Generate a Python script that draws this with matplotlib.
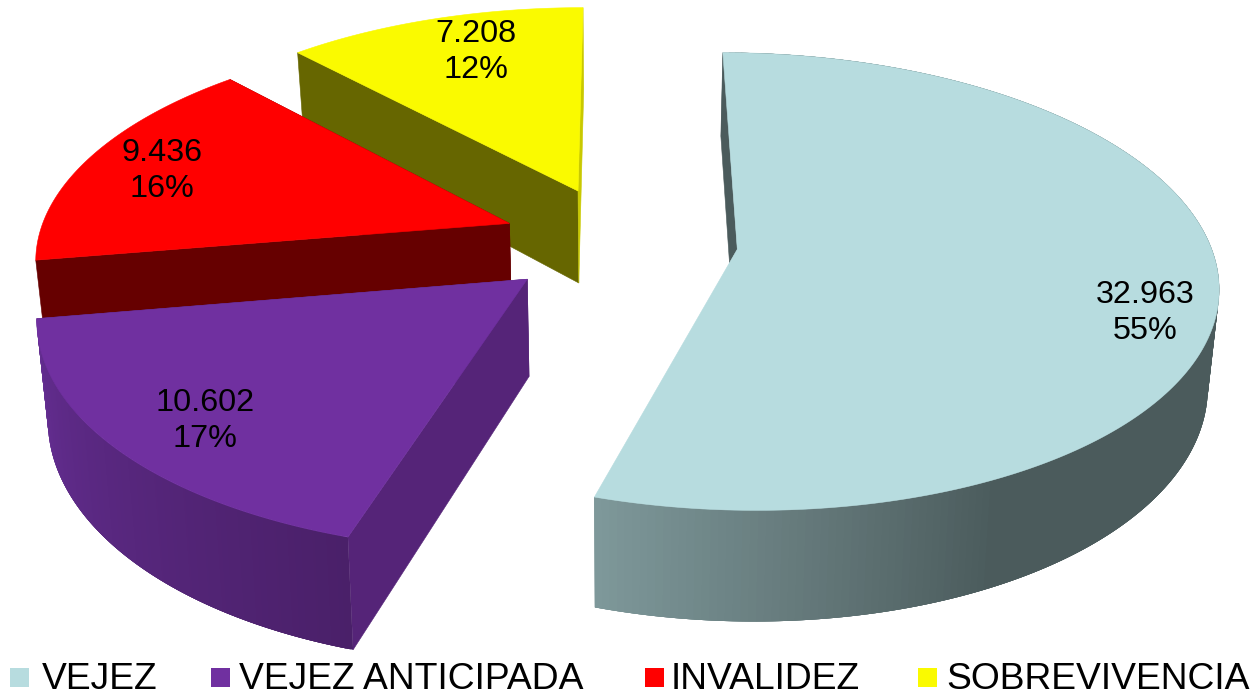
import numpy as np
import matplotlib
matplotlib.use("Agg")
import matplotlib.pyplot as plt
from matplotlib.colors import to_rgb
from matplotlib.patches import Polygon, Rectangle

categories = ["VEJEZ", "VEJEZ ANTICIPADA", "INVALIDEZ", "SOBREVIVENCIA"]
values = [32963, 10602, 9436, 7208]
value_labels = ["32.963", "10.602", "9.436", "7.208"]
pct_labels = ["55%", "17%", "16%", "12%"]
top_colors = ["#B7DCDF", "#7030A0", "#FF0000", "#FAFA00"]
side_colors = ["#4B5B5C", "#552478", "#660000", "#666600"]
end_colors = ["#4B5B5C", "#552478", "#660000", "#C9C900"]
grad_light = ["#7F999B", "#652E93", "#660000", "#666600"]
grad_dark = ["#4B5B5C", "#4A2069", "#660000", "#666600"]
explode = [0.25, 0.255, 0.25, 0.25]
label_xy = [(1145, 313), (205, 421), (162, 171), (476, 52)]
legend_sq_x = [10, 211, 645, 918]
legend_tx_x = [42, 239, 671, 946]

VX, Y0, F, T, P, H, K = 620, 241, 472, 222, 0.14, 95, 0.0002
C = T / P

def proj(x, y, z=0.0):
    s = 1 / (1 + P * np.asarray(y, float))
    return VX + F * np.asarray(x) * s * (1 - K * z), Y0 - C + (C + z) * s

fig = plt.figure(figsize=(12.52, 6.92), dpi=100)
ax = fig.add_axes([0, 0, 1, 1])
ax.set_xlim(0, 1252)
ax.set_ylim(692, 0)
ax.axis("off")

def poly(pts, color, z):
    ax.add_patch(Polygon(pts, closed=True, fc=color, ec=color, lw=0.4, zorder=z))

def isect(a, b, c, d):
    a, b, c, d = map(np.array, (a, b, c, d))
    r, q = b - a, d - c
    t = (q[1] * (c - a)[0] - q[0] * (c - a)[1]) / (q[1] * r[0] - q[0] * r[1])
    return a + t * r

total = sum(values)
edges = np.concatenate([[0], np.cumsum(values)]) / total * 2 * np.pi
order = [3, 2, 1, 0]
for k, i in enumerate(order):
    a0, a1 = edges[i], edges[i + 1]
    mid = (a0 + a1) / 2
    ex, ey = explode[i] * np.sin(mid), explode[i] * np.cos(mid)
    n = 240
    th = np.linspace(a0, a1, n)
    xs, ys = ex + np.sin(th), ey + np.cos(th)
    tx, ty = proj(xs, ys)
    bx, by = proj(xs, ys, H)
    ax_t, ay_t = proj(ex, ey)
    ax_b, ay_b = proj(ex, ey, H)
    base = 10 * (k + 1)
    if i == 0:
        cut = isect((ax_t, ay_t), (tx[-1], ty[-1]), (bx[0], by[0]), (ax_b, ay_b))
        poly([(tx[0], ty[0]), (ax_t, ay_t), cut, (bx[0], by[0])], end_colors[i], base)
    else:
        poly([(ax_t, ay_t), (tx[0], ty[0]), (bx[0], by[0]), (ax_b, ay_b)], side_colors[i], base)
        poly([(ax_t, ay_t), (tx[-1], ty[-1]), (bx[-1], by[-1]), (ax_b, ay_b)], end_colors[i], base + 1)
    lo, hi = np.array(to_rgb(grad_light[i])), np.array(to_rgb(grad_dark[i]))
    # each wall strip runs a few steps ahead so that the next strip hides its seam
    start = 0 if i < 2 else n
    for j in range(start, n - 1):
        if i == 0:
            w = np.clip((a1 - th[j]) / np.radians(44), 0, 1)
        else:
            w = np.clip((a1 - th[j]) / (a1 - a0), 0, 1)
        col = lo + (hi - lo) * w
        e = min(j + 4, n - 1)
        pts = list(zip(tx[j:e + 1], ty[j:e + 1])) + list(zip(bx[j:e + 1][::-1], by[j:e + 1][::-1]))
        ax.add_patch(Polygon(pts, closed=True, fc=col, ec="none", zorder=base + 2))
    poly(list(zip(tx, ty)) + [(ax_t, ay_t)], top_colors[i], base + 3)

for (lx, ly), v, p in zip(label_xy, value_labels, pct_labels):
    ax.text(lx, ly, f"{v}\n{p}", ha="center", va="center", family="Liberation Sans",
            fontsize=23.3, color="black", linespacing=1.28, zorder=100)

for cat, col, sx, tx_ in zip(categories, top_colors, legend_sq_x, legend_tx_x):
    ax.add_patch(Rectangle((sx, 668), 19, 19, fc=col, ec="none", zorder=100))
    ax.text(tx_, 689, cat, ha="left", va="baseline", family="Liberation Sans",
            fontsize=26.8, color="black", zorder=100)

fig.savefig("out.png", dpi=100, facecolor="white")
